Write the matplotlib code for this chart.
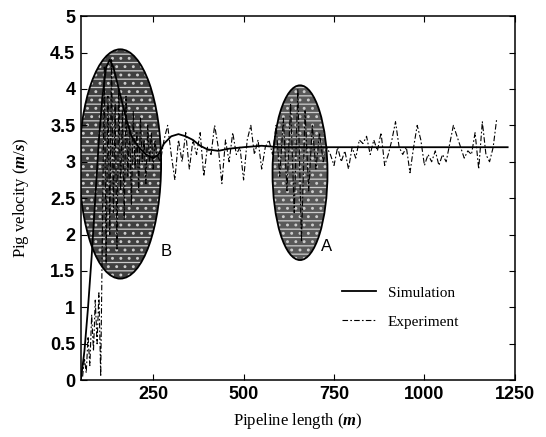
import numpy as np
import matplotlib
matplotlib.use("Agg")
import matplotlib.pyplot as plt
from matplotlib.patches import Ellipse

# simulation curve
sim_x = [50, 60, 70, 80, 90, 100, 110, 120, 130, 140, 150, 160, 175, 190, 210,
         230, 250, 265, 280, 300, 320, 340, 360, 380, 400, 430, 460, 500, 550,
         600, 700, 800, 900, 1000, 1100, 1230]
sim_y = [0.0, 0.4, 1.0, 1.7, 2.5, 3.3, 3.9, 4.3, 4.4, 4.3, 4.1, 3.9, 3.6, 3.35, 3.2,
         3.1, 3.05, 3.1, 3.25, 3.35, 3.38, 3.35, 3.3, 3.22, 3.17, 3.15, 3.18, 3.2, 3.22,
         3.2, 3.2, 3.2, 3.2, 3.2, 3.2, 3.2]

# experiment: start-up part (55..100, step 5)
exp_start = [0.05, 0.3, 0.1, 0.6, 0.2, 0.9, 0.4, 1.1, 0.5, 1.2]
# zone B (105..260, step 5)
exp_zone_b = [0.05, 2.2, 4.3, 1.6, 3.9, 2.0, 4.4, 2.3, 3.8, 1.8,
              4.0, 2.6, 3.7, 2.2, 3.9, 2.8, 3.5, 2.4, 3.7, 2.9,
              3.4, 2.6, 3.6, 3.0, 3.3, 2.7, 3.5, 3.0, 3.4, 2.9,
              3.3, 3.1]
# 270..730, step 10 (includes zone A)
exp_mid = [3.0, 3.3, 3.5, 3.1, 2.75, 3.3, 3.0, 3.4, 2.9, 3.3,
           3.1, 3.4, 2.8, 3.2, 3.1, 3.5, 3.2, 2.7, 3.3, 3.0,
           3.4, 3.1, 3.2, 2.75, 3.3, 3.5, 3.1, 3.3, 2.9, 3.2,
           3.3, 3.1, 3.5, 2.8, 3.6, 2.6, 3.8, 2.3, 4.0, 1.9,
           3.7, 2.6, 3.5, 2.9, 3.4, 3.0, 3.2]
# 740..1200, step 10
exp_end = [3.1, 2.95, 3.2, 3.0, 3.15, 2.9, 3.2, 3.05, 3.3, 3.25,
           3.35, 3.1, 3.3, 3.15, 3.4, 2.95, 3.1, 3.3, 3.55, 3.2,
           3.1, 3.2, 2.85, 3.2, 3.5, 3.3, 2.95, 3.1, 3.0, 3.15,
           2.95, 3.1, 3.0, 3.25, 3.5, 3.35, 3.2, 3.05, 3.15, 3.1,
           3.4, 2.9, 3.55, 3.1, 3.0, 3.2, 3.6]

exp_x = np.concatenate([np.arange(55, 101, 5), np.arange(105, 261, 5),
                        np.arange(270, 731, 10), np.arange(740, 1201, 10)])
exp_y = np.array(exp_start + exp_zone_b + exp_mid + exp_end)

# shaded zones: (centre x, centre y, width, height, shade)
zones = {"B": (159, 2.97, 226, 3.15, "0.25"), "A": (656, 2.85, 152, 2.4, "0.35")}
zone_labels = {"B": (285, 1.77), "A": (729, 1.84)}

x_ticks = [250, 500, 750, 1000, 1250]
y_ticks = [0, 0.5, 1, 1.5, 2, 2.5, 3, 3.5, 4, 4.5, 5]

plt.rcParams["mathtext.fontset"] = "custom"
plt.rcParams["mathtext.it"] = "Liberation Serif:italic:bold"
plt.rcParams["mathtext.rm"] = "Liberation Serif"
plt.rcParams["hatch.linewidth"] = 0.9

fig = plt.figure(figsize=(5.46, 4.37), dpi=100)
ax = fig.add_axes([0.148, 0.130, 0.795, 0.833])

for key, (cx, cy, w, h, shade) in zones.items():
    ax.add_patch(Ellipse((cx, cy), w, h, facecolor=shade, edgecolor="none", zorder=1))
    # light streaks / speckle over the zone, like the scanned stipple
    ax.add_patch(Ellipse((cx, cy), w, h, facecolor="none", edgecolor="0.8",
                         linewidth=0, hatch="--..", zorder=1.5))
    ax.add_patch(Ellipse((cx, cy), w, h, facecolor="none", edgecolor="black",
                         linewidth=1.3, zorder=3))
    lx, ly = zone_labels[key]
    ax.text(lx, ly, key, fontsize=12, family="Liberation Sans", ha="center", va="center")

ax.plot(sim_x, sim_y, color="black", linewidth=1.3, label="Simulation", zorder=2)
ax.plot(exp_x, exp_y, color="black", linewidth=0.8, dashes=(5, 2, 1.5, 2),
        label="Experiment", zorder=2)

ax.set_xlim(50, 1250)
ax.set_ylim(0, 5)
ax.set_xticks(x_ticks)
ax.set_yticks(y_ticks)
ax.set_yticklabels([f"{v:g}" for v in y_ticks])
ax.tick_params(direction="in", length=4, top=True, right=True, labelsize=13, pad=4)
for lab in ax.get_xticklabels() + ax.get_yticklabels():
    lab.set_family("Liberation Sans")
    lab.set_weight("bold")
for sp in ax.spines.values():
    sp.set_linewidth(1.1)

ax.set_xlabel("Pipeline length ($m$)", family="Liberation Serif", fontsize=12, labelpad=6)
ax.set_ylabel("Pig velocity ($m/s$)", family="Liberation Serif", fontsize=12, labelpad=14)

ax.legend(loc="center left", bbox_to_anchor=(0.57, 0.2), frameon=False,
          prop={"family": "Liberation Serif", "size": 11}, handlelength=2.2,
          labelspacing=1.0)

fig.savefig("out.png", dpi=100)
